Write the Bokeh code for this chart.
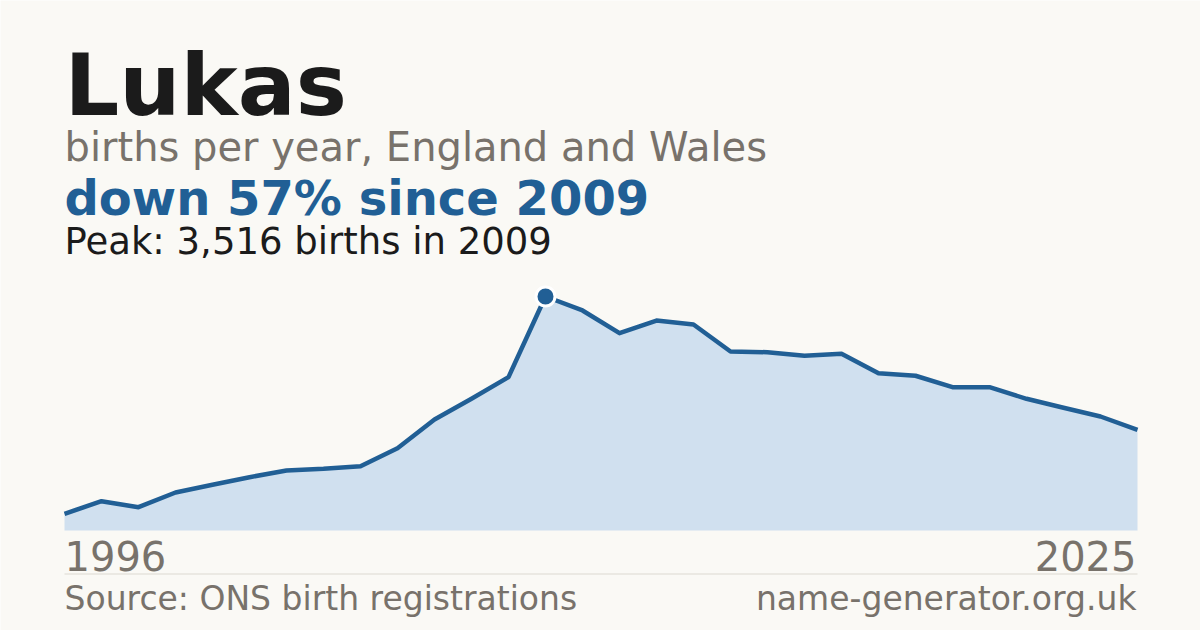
from bokeh.plotting import figure
from bokeh.models import Range1d, Label, BoxAnnotation
from bokeh.embed import file_html
from bokeh.resources import INLINE

# ---- data ----
years = list(range(1996, 2026))
births = [251, 440, 350, 571, 687, 801, 902, 927, 966, 1237,
          1668, 1979, 2304, 3516, 3306, 2965, 3155, 3095, 2690, 2679,
          2625, 2655, 2364, 2325, 2153, 2153, 1979, 1844, 1713, 1512]
name = "Lukas"
subtitle = "births per year, England and Wales"
headline = "down 57% since 2009"
peak_text = "Peak: 3,516 births in 2009"
first_label = "1996"
last_label = "2025"
source_text = "Source: ONS birth registrations"
site_text = "name-generator.org.uk"

peak_i = births.index(max(births))
peak_year = years[peak_i]
peak_val = births[peak_i]

# ---- layout ----
W, H = 1200, 630
BG = "#faf9f5"
BLUE = "#215f95"
FILL = "#d0e0ef"
GREY = "#78726b"
DARK = "#1b1b1b"
FONT = "DejaVu Sans"

left_px, right_px = 64, 1137      # plot area in figure pixels
base_px, top_px = 100, 334        # from bottom: baseline and peak height

ppy = (right_px - left_px) / (years[-1] - years[0])
x0 = years[0] - left_px / ppy
ppv = (top_px - base_px) / peak_val
y0 = -base_px / ppv

p = figure(width=W, height=H, output_backend="svg", toolbar_location=None,
           x_range=Range1d(x0, x0 + W / ppy), y_range=Range1d(y0, y0 + H / ppv),
           min_border=0, title=None)
p.xaxis.visible = False
p.yaxis.visible = False
p.grid.visible = False
p.outline_line_color = None
p.background_fill_color = BG
p.border_fill_color = BG

p.varea(x=years, y1=[0] * len(years), y2=births, fill_color=FILL)
p.line(x=years, y=births, line_width=4.5, line_color=BLUE, line_join="round")
p.scatter(x=[peak_year], y=[peak_val], size=19, fill_color=BLUE,
          line_color="white", line_width=3)


def lab(text, x, baseline, size, color, bold=False, align="left"):
    # baseline given in px from the bottom of the canvas
    p.add_layout(Label(x=x, y=baseline + 0.346 * size, x_units="screen", y_units="screen",
                       text=text, text_font=FONT, text_font_size=f"{size}px",
                       text_font_style="bold" if bold else "normal",
                       text_color=color, text_align=align,
                       text_baseline="middle"))


lab(name, 64, 516, 86, DARK, bold=True)
lab(subtitle, 64, 470, 40, GREY)
lab(headline, 64, 416, 48, BLUE, bold=True)
lab(peak_text, 64, 376.5, 37, DARK)
lab(first_label, 64, 61, 40, GREY)
lab(last_label, 1136, 61, 40, GREY, align="right")
lab(source_text, 64, 21, 33, GREY)
lab(site_text, 1136, 21, 33, GREY, align="right")

p.add_layout(BoxAnnotation(left=left_px, right=right_px, bottom=56, top=57,
                           left_units="screen", right_units="screen",
                           bottom_units="screen", top_units="screen",
                           fill_color="#dcd9d2", fill_alpha=1, line_color=None))

open("out.html", "w").write(file_html(p, INLINE))
